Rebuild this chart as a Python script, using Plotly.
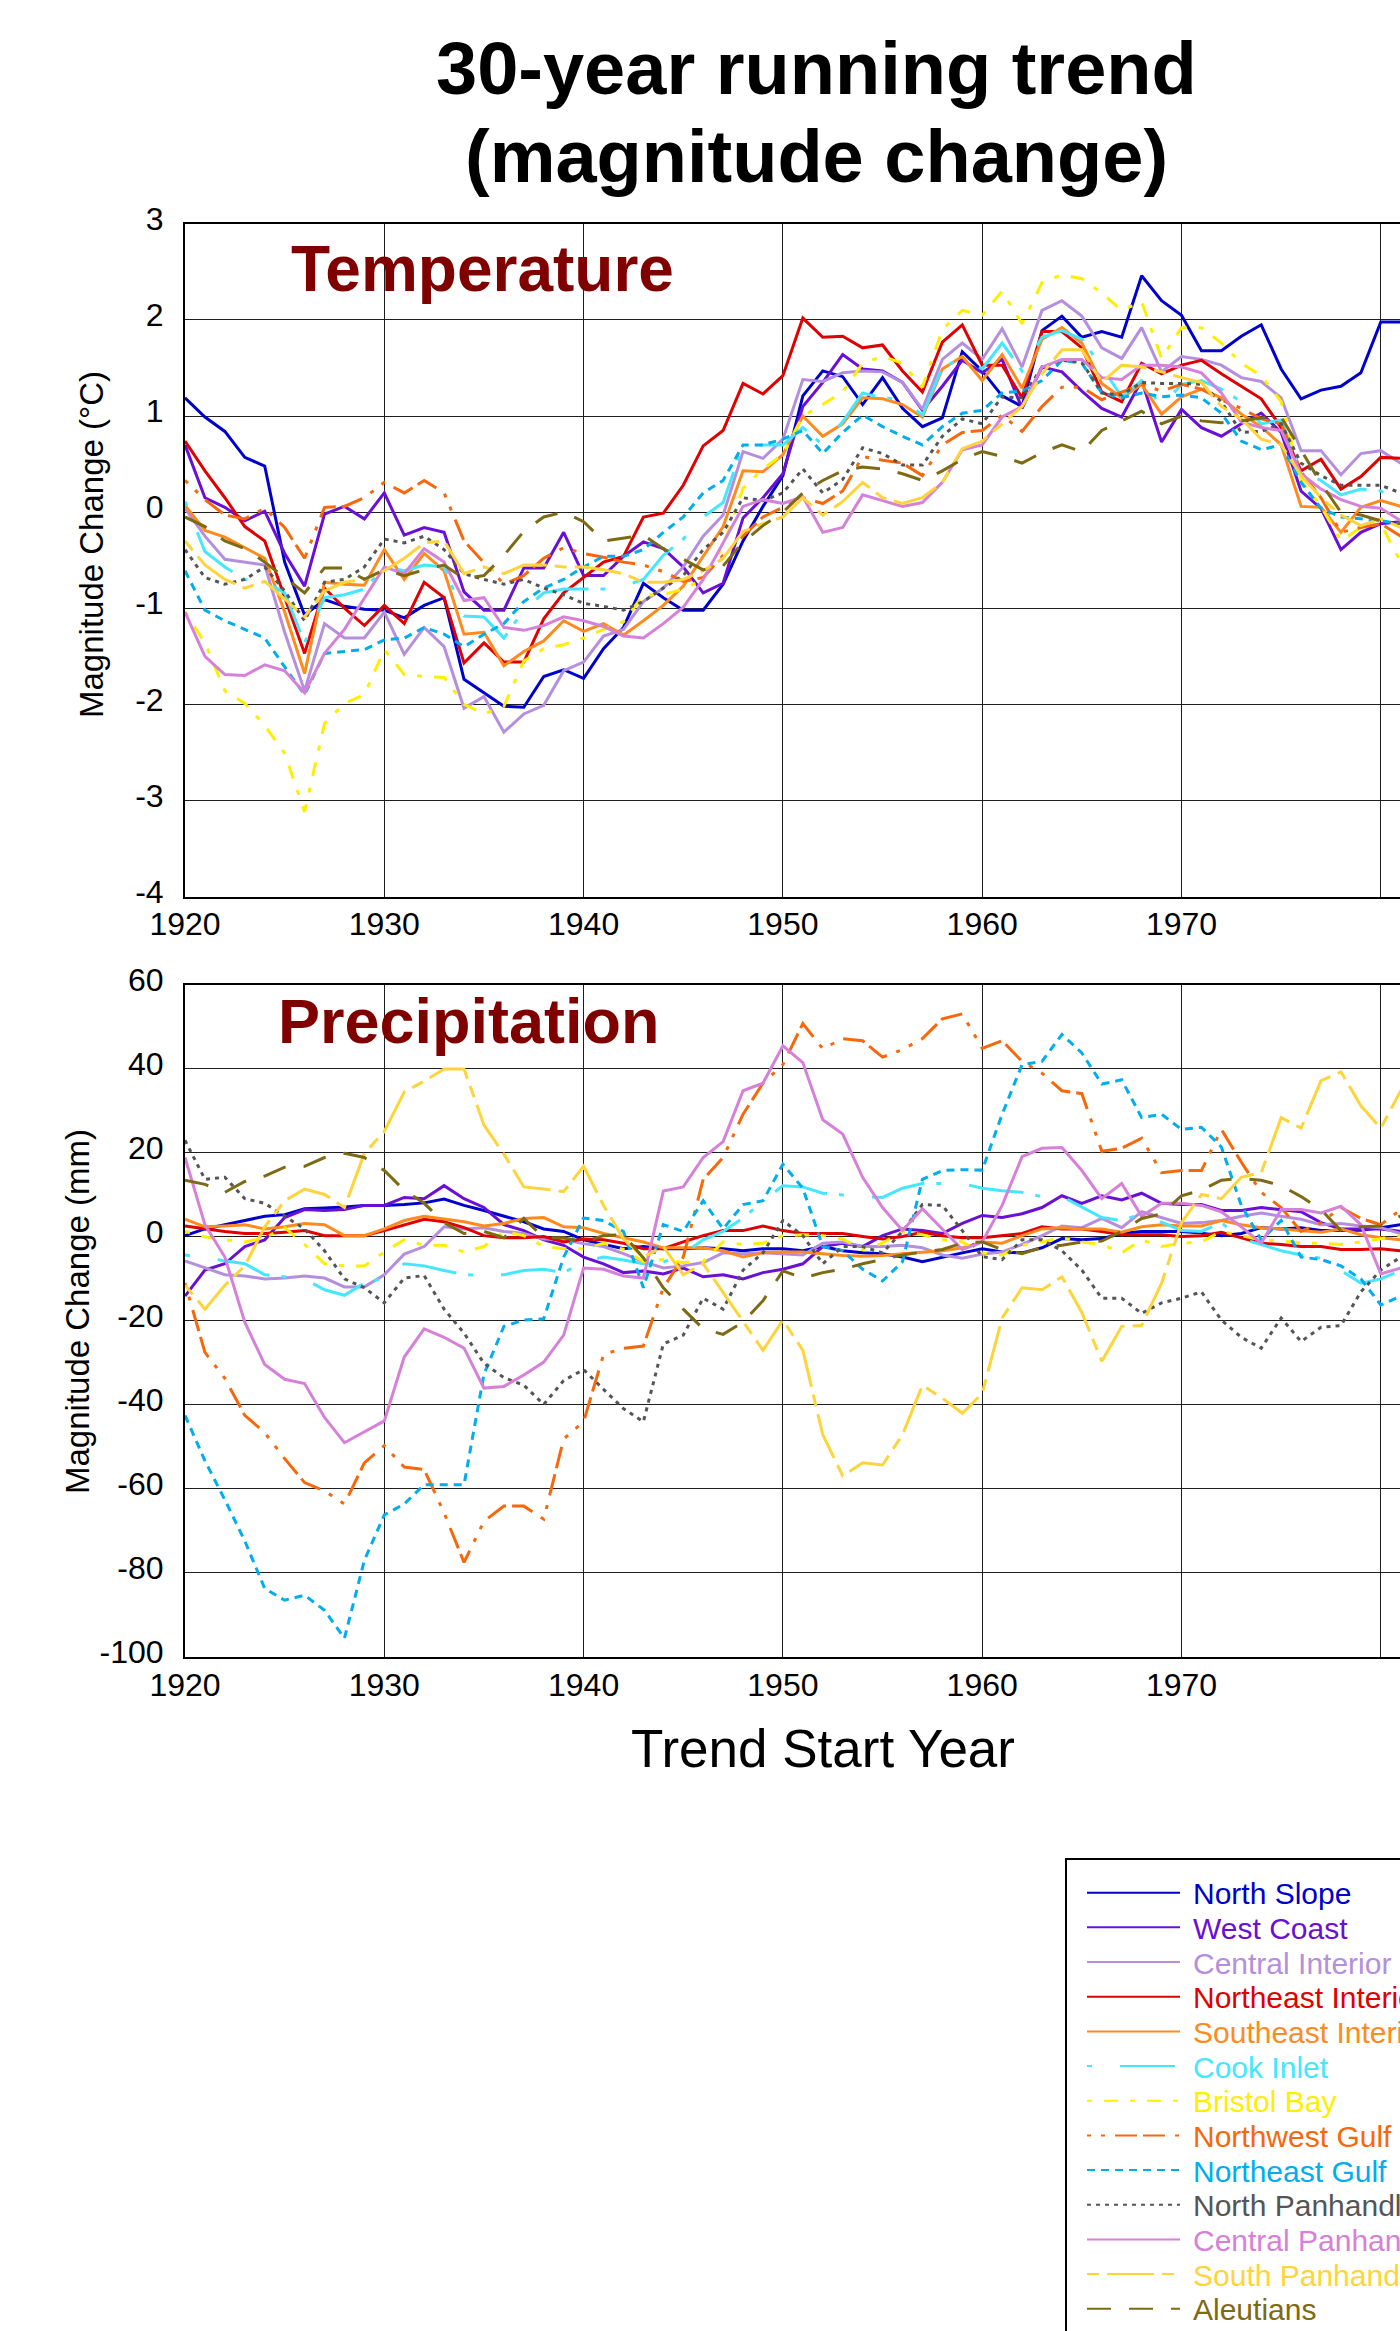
import plotly.graph_objects as go

# ---------------------------------------------------------------------------
# Data: 30-year running trend (magnitude change), trend start years 1920-1981
# ---------------------------------------------------------------------------
YEARS = list(range(1920, 1982))

REGIONS = [
    "North Slope", "West Coast", "Central Interior", "Northeast Interior",
    "Southeast Interior", "Cook Inlet", "Bristol Bay", "Northwest Gulf",
    "Northeast Gulf", "North Panhandle", "Central Panhandle",
    "South Panhandle", "Aleutians",
]

# Temperature trend magnitude (deg C)
NS_T = [1.19, 0.99, 0.84, 0.57, 0.48, -0.52, -1.07, -0.91, -0.98, -1.01,
        -1.02, -1.10, -0.97, -0.89, -1.74, -1.88, -2.02, -2.03, -1.71, -1.64,
        -1.73, -1.42, -1.20, -0.74, -0.89, -1.02, -1.02, -0.75, -0.30, 0.06,
        0.38, 1.21, 1.47, 1.41, 1.12, 1.40, 1.08, 0.89, 0.98, 1.67,
        1.47, 1.21, 1.10, 1.89, 2.04, 1.82, 1.88, 1.82, 2.46, 2.20,
        2.05, 1.68, 1.68, 1.83, 1.95, 1.49, 1.18, 1.27, 1.31, 1.45,
        1.98, 1.98]
WC_T = [0.70, 0.15, 0.05, -0.09, 0.01, -0.43, -0.77, -0.02, 0.06, -0.07,
        0.20, -0.24, -0.16, -0.21, -0.83, -1.02, -1.02, -0.58, -0.58, -0.21,
        -0.66, -0.66, -0.46, -0.31, -0.38, -0.57, -0.84, -0.74, -0.06, 0.15,
        0.40, 1.10, 1.35, 1.64, 1.49, 1.47, 1.35, 1.06, 1.31, 1.58,
        1.45, 1.59, 1.08, 1.51, 1.46, 1.26, 1.08, 0.99, 1.37, 0.73,
        1.07, 0.88, 0.79, 0.92, 1.03, 0.83, 0.22, 0.04, -0.39, -0.21,
        -0.12, -0.10]
CI_T = [0.04, -0.25, -0.49, -0.52, -0.55, -1.25, -1.86, -1.16, -1.31, -1.31,
        -1.04, -1.48, -1.20, -1.40, -2.04, -1.92, -2.29, -2.10, -2.01, -1.65,
        -1.56, -1.29, -1.22, -0.93, -0.79, -0.57, -0.25, -0.03, 0.63, 0.56,
        0.76, 1.38, 1.36, 1.45, 1.47, 1.46, 1.35, 1.07, 1.59, 1.76,
        1.59, 1.91, 1.51, 2.10, 2.20, 2.04, 1.71, 1.60, 1.92, 1.46,
        1.62, 1.59, 1.53, 1.40, 1.36, 1.19, 0.64, 0.64, 0.39, 0.61,
        0.64, 0.51]
NEI_T = [0.74, 0.43, 0.15, -0.15, -0.30, -0.89, -1.47, -0.79, -1.00, -1.18,
         -0.97, -1.16, -0.73, -0.89, -1.57, -1.36, -1.56, -1.56, -1.11, -0.84,
         -0.68, -0.52, -0.46, -0.05, -0.01, 0.28, 0.69, 0.85, 1.34, 1.23,
         1.42, 2.02, 1.82, 1.83, 1.71, 1.74, 1.47, 1.25, 1.77, 1.95,
         1.53, 1.53, 1.19, 1.88, 1.88, 1.71, 1.25, 1.15, 1.55, 1.44,
         1.53, 1.58, 1.44, 1.31, 1.18, 0.88, 0.43, 0.55, 0.24, 0.37,
         0.57, 0.56]
SEI_T = [0.07, -0.19, -0.26, -0.37, -0.48, -1.04, -1.68, -0.73, -0.75, -0.76,
         -0.39, -0.70, -0.43, -0.61, -1.27, -1.25, -1.60, -1.45, -1.34, -1.13,
         -1.24, -1.16, -1.28, -1.13, -0.97, -0.77, -0.46, -0.15, 0.43, 0.42,
         0.60, 1.00, 0.79, 0.92, 1.19, 1.18, 1.12, 0.99, 1.49, 1.62,
         1.37, 1.64, 1.29, 1.80, 1.92, 1.76, 1.34, 1.19, 1.33, 1.02,
         1.20, 1.28, 1.19, 1.02, 0.89, 0.70, 0.06, 0.05, -0.21, 0.05,
         0.12, 0.06]
CK_T = [0.11, -0.41, -0.57, -0.70, -0.72, -0.84, -1.36, -0.89, -0.86, -0.80,
        -0.57, -0.61, -0.55, -0.57, -1.08, -1.09, -1.31, -1.02, -0.84, -0.80,
        -0.80, -0.80, -0.77, -0.70, -0.45, -0.28, -0.05, 0.10, 0.70, 0.70,
        0.70, 0.88, 0.70, 0.94, 1.24, 1.19, 1.17, 1.01, 1.51, 1.60,
        1.49, 1.76, 1.47, 1.82, 1.89, 1.80, 1.51, 1.20, 1.37, 1.10,
        1.33, 1.37, 1.28, 1.15, 0.92, 0.96, 0.42, 0.33, 0.18, 0.24,
        0.22, 0.11]
BB_T = [-1.04, -1.36, -1.86, -1.99, -2.22, -2.51, -3.12, -2.20, -1.99, -1.90,
        -1.43, -1.69, -1.71, -1.72, -2.00, -2.10, -2.02, -1.55, -1.42, -1.38,
        -1.31, -1.22, -1.14, -0.86, -0.86, -0.80, -0.70, -0.35, 0.25, 0.45,
        0.60, 1.00, 1.12, 1.25, 1.55, 1.62, 1.55, 1.30, 1.90, 2.10,
        2.05, 2.30, 1.96, 2.39, 2.47, 2.43, 2.28, 2.10, 2.19, 1.60,
        1.92, 1.92, 1.76, 1.55, 1.42, 1.15, 0.33, 0.06, -0.30, -0.16,
        -0.12, -0.52]
NWG_T = [0.33, 0.13, -0.03, -0.07, 0.04, -0.16, -0.48, 0.05, 0.06, 0.15,
         0.31, 0.20, 0.33, 0.20, -0.30, -0.52, -0.75, -0.66, -0.48, -0.37,
         -0.43, -0.47, -0.52, -0.55, -0.62, -0.72, -0.68, -0.45, -0.25, -0.05,
         0.05, 0.15, 0.09, 0.22, 0.58, 0.54, 0.51, 0.38, 0.70, 0.83,
         0.85, 1.01, 0.84, 1.10, 1.30, 1.30, 1.17, 1.25, 1.33, 1.26,
         1.33, 1.28, 1.17, 1.08, 0.97, 0.92, 0.42, 0.15, -0.21, -0.16,
         -0.12, -0.25]
NEG_T = [-0.61, -1.02, -1.13, -1.22, -1.31, -1.61, -1.90, -1.47, -1.45, -1.43,
         -1.33, -1.31, -1.20, -1.27, -1.40, -1.27, -1.16, -0.93, -0.79, -0.70,
         -0.57, -0.46, -0.46, -0.39, -0.21, -0.05, 0.20, 0.33, 0.70, 0.70,
         0.76, 0.85, 0.61, 0.83, 1.01, 0.89, 0.79, 0.70, 0.89, 1.03,
         1.06, 1.24, 1.26, 1.37, 1.58, 1.55, 1.24, 1.19, 1.24, 1.20,
         1.22, 1.19, 1.03, 0.74, 0.65, 0.70, 0.31, 0.04, -0.05, -0.07,
         -0.09, -0.12]
NP_T = [-0.39, -0.68, -0.75, -0.70, -0.57, -0.82, -1.13, -0.73, -0.70, -0.57,
        -0.28, -0.32, -0.25, -0.39, -0.64, -0.70, -0.75, -0.70, -0.79, -0.86,
        -0.95, -0.98, -1.02, -0.93, -0.79, -0.66, -0.39, -0.21, 0.15, 0.12,
        0.20, 0.45, 0.20, 0.34, 0.67, 0.61, 0.49, 0.49, 0.79, 0.97,
        0.92, 1.20, 1.19, 1.51, 1.58, 1.56, 1.24, 1.22, 1.35, 1.34,
        1.34, 1.33, 1.15, 0.83, 0.84, 0.92, 0.51, 0.38, 0.28, 0.28,
        0.28, 0.20]
CP_T = [-1.04, -1.50, -1.69, -1.70, -1.59, -1.65, -1.88, -1.47, -1.22, -0.89,
        -0.57, -0.64, -0.38, -0.52, -0.92, -0.89, -1.20, -1.23, -1.18, -1.09,
        -1.13, -1.19, -1.29, -1.31, -1.16, -0.99, -0.70, -0.32, 0.06, 0.13,
        0.09, 0.16, -0.21, -0.16, 0.18, 0.12, 0.06, 0.10, 0.31, 0.65,
        0.70, 0.99, 1.10, 1.51, 1.59, 1.59, 1.40, 1.38, 1.53, 1.53,
        1.51, 1.45, 1.24, 0.94, 0.88, 0.85, 0.40, 0.24, 0.13, 0.06,
        0.04, -0.09]
SP_T = [-0.30, -0.55, -0.70, -0.79, -0.72, -0.91, -1.09, -0.82, -0.73, -0.70,
        -0.61, -0.48, -0.32, -0.30, -0.64, -0.57, -0.64, -0.55, -0.55, -0.57,
        -0.57, -0.60, -0.64, -0.73, -0.73, -0.70, -0.61, -0.48, -0.20, -0.12,
        -0.05, 0.15, -0.03, 0.11, 0.31, 0.15, 0.09, 0.15, 0.31, 0.66,
        0.74, 0.92, 1.10, 1.44, 1.69, 1.69, 1.35, 1.53, 1.51, 1.46,
        1.40, 1.35, 1.10, 0.97, 0.76, 0.70, 0.38, 0.15, -0.03, -0.14,
        -0.07, -0.16]
AL_T = [-0.05, -0.15, -0.30, -0.38, -0.52, -0.68, -0.84, -0.58, -0.58, -0.70,
        -0.60, -0.66, -0.60, -0.55, -0.69, -0.66, -0.45, -0.20, -0.05, 0.00,
        -0.10, -0.30, -0.27, -0.24, -0.38, -0.49, -0.60, -0.56, -0.31, -0.14,
        0.00, 0.20, 0.33, 0.43, 0.47, 0.45, 0.40, 0.33, 0.43, 0.55,
        0.63, 0.58, 0.51, 0.62, 0.70, 0.63, 0.85, 0.95, 1.05, 0.92,
        1.00, 0.95, 0.93, 0.95, 0.98, 0.99, 0.65, 0.30, 0.00, -0.03,
        -0.09, -0.12]

# Precipitation trend magnitude (mm)
NS_P = [0.3, 1.9, 2.9, 3.9, 4.9, 5.3, 6.7, 6.9, 7.1, 7.5,
        7.5, 7.7, 8.1, 9.0, 7.5, 6.3, 4.9, 3.6, 1.9, 1.3,
        -0.7, -1.8, -2.8, -2.3, -2.8, -2.8, -2.6, -2.8, -3.3, -2.8,
        -2.8, -3.3, -2.3, -3.3, -3.8, -4.0, -4.8, -5.9, -4.8, -3.8,
        -2.8, -3.6, -3.8, -2.6, -0.4, -0.7, -0.4, 0.8, 1.3, 1.3,
        1.3, 0.9, 0.3, 0.8, 2.2, 1.9, 2.2, 1.5, 1.6, 1.6,
        2.2, 2.9]
WC_P = [-14.1, -7.9, -6.4, -2.3, -0.7, 4.6, 6.5, 6.3, 6.5, 7.5,
        7.5, 9.4, 9.1, 12.2, 9.1, 7.0, 2.9, 1.5, -0.7, -2.0,
        -4.8, -6.4, -8.5, -8.1, -8.8, -7.4, -9.5, -9.0, -10.0, -8.5,
        -7.7, -6.4, -2.3, -1.5, -2.3, 0.3, 1.9, 1.5, 0.8, 3.2,
        5.1, 4.6, 5.5, 7.0, 9.8, 8.0, 9.8, 8.8, 10.4, 8.0,
        7.7, 7.7, 6.3, 6.3, 7.0, 6.5, 6.0, 3.4, 1.9, 1.9,
        1.9, 1.3]
CI_P = [-5.7, -7.4, -9.0, -9.3, -10.0, -9.8, -9.3, -9.8, -11.9, -11.9,
        -9.0, -4.1, -2.3, 2.4, 1.9, 2.2, 1.3, 0.8, -0.5, -0.7,
        -1.6, -2.3, -4.0, -5.9, -7.4, -6.9, -6.1, -3.8, -4.0, -3.8,
        -4.0, -4.3, -1.5, -1.2, -2.3, -2.3, -2.0, -2.6, -4.3, -5.1,
        -4.1, -3.6, -1.8, 0.3, 2.6, 2.2, 4.4, 2.2, 6.0, 4.6,
        3.2, 3.4, 3.9, 4.9, 5.7, 4.9, 4.2, 2.9, 3.2, 2.6,
        2.2, 0.8]
NEI_P = [2.6, 1.9, 1.3, 0.8, 0.8, 1.1, 1.5, 0.3, 0.3, 0.3,
         1.5, 2.9, 4.2, 3.6, 2.2, 0.3, -0.2, -0.2, 0.1, -1.2,
         -0.5, -0.7, -1.5, -2.8, -2.8, -1.2, 0.3, 1.5, 1.5, 2.6,
         1.5, 0.8, 0.8, 0.8, 0.1, -0.5, 0.1, 1.1, 0.3, -0.2,
         -0.2, 0.3, 0.8, 2.4, 1.9, 1.9, 1.3, 0.5, 0.5, 0.5,
         0.1, 0.3, 1.1, -0.2, -1.5, -1.8, -2.3, -2.3, -3.0, -3.0,
         -2.8, -3.3]
SEI_P = [4.2, 2.4, 2.6, 2.9, 1.9, 2.4, 3.2, 2.9, 0.3, 0.3,
         1.9, 3.9, 4.9, 4.2, 3.6, 2.6, 3.2, 4.4, 4.6, 2.4,
         2.2, 0.8, -0.2, -1.2, -2.6, -2.6, -2.6, -3.3, -4.8, -3.8,
         -3.6, -3.6, -4.0, -4.4, -4.6, -4.4, -4.0, -3.6, -3.3, -2.6,
         -1.2, -1.5, 0.3, 1.9, 2.2, 1.9, 1.9, 1.1, 2.4, 2.9,
         2.6, 2.6, 3.9, 2.9, 2.2, 1.9, 1.5, 1.1, 1.9, 0.5,
         -0.2, -0.7]
CK_P = [-4.3, -5.0, -5.7, -6.4, -9.0, -9.5, -10.0, -12.6, -13.9, -11.0,
        -9.8, -6.4, -6.9, -8.0, -9.0, -9.2, -9.0, -8.0, -7.7, -8.5,
        -5.9, -4.8, -5.5, -6.4, -6.0, -4.0, -0.7, 1.3, 4.5, 8.5,
        12.2, 11.9, 10.4, 10.0, 9.6, 9.4, 11.6, 12.7, 12.7, 12.7,
        11.6, 11.0, 10.6, 9.6, 9.6, 7.0, 4.6, 3.9, 5.5, 3.5,
        1.5, 1.3, 3.4, -0.5, -1.8, -3.3, -4.3, -5.1, -8.0, -11.0,
        -10.0, -8.0]
BB_P = [1.3, 0.0, -0.7, -1.2, -0.2, 2.2, -1.8, -6.4, -6.9, -6.9,
        -3.6, -0.7, -2.0, -2.0, -3.6, -2.3, 1.3, 0.3, -2.3, -2.8,
        -2.8, -1.5, -3.0, -5.9, -5.4, -6.1, -5.9, -1.2, -1.8, -1.5,
        0.3, 0.5, 0.3, -0.5, -3.0, -1.5, 1.3, 0.5, -0.7, -1.2,
        -3.8, -4.3, -2.0, -1.2, -0.2, -1.2, -1.8, -3.8, -0.7, -2.3,
        -1.5, -1.2, 1.3, 0.3, -0.7, -0.9, -1.5, -1.5, -1.8, -1.2,
        -0.5, 0.3]
NWG_P = [-11.0, -27.5, -33.7, -42.5, -46.6, -52.8, -58.5, -60.5, -63.6, -53.8,
         -49.7, -54.8, -55.4, -65.7, -77.5, -67.7, -64.1, -64.1, -67.2, -48.1,
         -44.0, -28.0, -26.5, -26.0, -12.1, -4.8, 13.7, 18.9, 29.2, 36.6,
         41.0, 50.8, 44.8, 47.2, 46.7, 42.8, 44.6, 47.2, 51.9, 53.1,
         44.9, 46.7, 41.8, 39.0, 34.8, 34.1, 20.4, 21.1, 23.5, 15.3,
         15.8, 15.8, 25.6, 17.8, 10.6, 7.0, 1.3, 3.4, 7.0, 4.4,
         2.9, 6.5]
NEG_P = [-42.5, -53.3, -62.6, -72.4, -83.7, -86.5, -85.3, -88.9, -95.6, -77.0,
         -66.2, -63.6, -59.0, -59.0, -59.0, -32.7, -21.3, -19.8, -19.5, -4.8,
         4.5, 3.9, 1.3, -12.1, 2.9, 1.3, 8.6, 1.9, 7.7, 8.6,
         17.3, 11.6, -2.3, -3.3, -7.7, -10.5, -5.9, 13.7, 15.8, 16.0,
         15.9, 29.2, 41.0, 41.8, 48.2, 43.8, 36.4, 37.4, 28.4, 29.2,
         25.6, 26.1, 21.4, 7.5, -0.7, 3.9, -4.8, -5.4, -6.9, -10.0,
         -16.2, -14.1]
NP_P = [23.0, 13.7, 14.2, 9.1, 8.0, 4.9, 1.9, -3.3, -10.0, -12.1,
        -15.7, -9.8, -9.2, -17.2, -22.9, -30.1, -33.5, -35.3, -39.9, -34.2,
        -31.6, -36.3, -40.9, -44.0, -25.5, -23.4, -14.6, -17.2, -7.9, -3.8,
        3.9, 0.3, -6.4, -2.3, -2.3, -3.8, 1.3, 7.7, 7.5, 1.5,
        -4.7, -5.4, -0.7, -0.7, -3.3, -7.9, -14.6, -14.6, -18.2, -15.7,
        -14.6, -13.1, -19.8, -23.9, -26.5, -19.3, -24.9, -21.5, -21.1, -13.1,
        -7.9, -4.8]
CP_P = [18.9, 2.9, -4.8, -20.3, -30.4, -33.9, -34.9, -43.0, -49.0, -46.3,
        -43.8, -28.6, -21.9, -23.9, -26.5, -36.0, -35.6, -32.9, -29.8, -23.4,
        -7.4, -7.7, -9.3, -9.8, 10.9, 11.9, 18.9, 22.7, 34.8, 36.6,
        45.5, 41.5, 27.9, 24.5, 14.2, 7.0, 1.5, 6.7, 1.9, -3.0,
        -1.2, 7.5, 19.1, 21.1, 21.3, 15.8, 9.1, 12.7, 4.9, 8.0,
        8.0, 7.5, 6.0, 2.4, -1.5, 6.5, 6.5, 5.7, 7.3, 2.9,
        -8.8, -7.4]
SP_P = [-11.5, -17.2, -11.5, -6.9, 2.4, 8.6, 11.4, 10.1, 7.0, 19.9,
        25.1, 34.5, 37.1, 40.0, 40.0, 26.6, 19.7, 11.9, 11.4, 10.8,
        16.8, 7.5, -0.5, -4.8, -2.3, -9.0, -6.4, -13.1, -20.1, -27.0,
        -19.8, -27.0, -47.1, -56.9, -53.8, -54.3, -47.1, -35.3, -38.4, -42.0,
        -37.3, -19.3, -12.1, -12.6, -9.5, -18.0, -29.6, -21.3, -21.1, -11.0,
        3.4, 10.1, 9.1, 14.2, 15.3, 28.4, 25.9, 37.2, 39.3, 31.2,
        25.9, 34.8]
AL_P = [13.5, 12.5, 10.6, 13.2, 14.5, 16.6, 16.8, 18.9, 19.9, 18.9,
        15.8, 11.1, 8.0, 3.4, 0.8, 1.3, -0.2, 4.4, -0.2, -0.2,
        -1.2, 0.3, 0.5, -5.0, -12.1, -17.2, -21.9, -23.2, -20.3, -15.2,
        -8.1, -9.8, -8.5, -7.7, -6.4, -5.4, -4.3, -3.6, -3.0, -1.5,
        -1.2, -3.0, -4.0, -2.5, -2.0, -1.2, -1.0, 1.3, 4.4, 5.5,
        9.8, 11.1, 13.5, 13.9, 13.5, 12.2, 9.6, 6.5, 1.5, 2.4,
        2.6, 5.0]

TEMP = [NS_T, WC_T, CI_T, NEI_T, SEI_T, CK_T, BB_T, NWG_T, NEG_T,
        NP_T, CP_T, SP_T, AL_T]
PRECIP = [NS_P, WC_P, CI_P, NEI_P, SEI_P, CK_P, BB_P, NWG_P, NEG_P,
          NP_P, CP_P, SP_P, AL_P]

TEMP_TICKS = list(range(-4, 4))
PRECIP_TICKS = list(range(-100, 61, 20))
YEAR_TICKS = list(range(1920, 1981, 10))

# ---------------------------------------------------------------------------
# Styling
# ---------------------------------------------------------------------------
COLORS = ["#0000CC", "#6A0FD6", "#B58FDE", "#E00000", "#FF8A1E", "#45E6FF",
          "#FFEE00", "#F8680A", "#00ADEE", "#555555", "#D680DA", "#FFD43A",
          "#7E6A12"]
DASHES = ["solid", "solid", "solid", "solid", "solid",
          "5px,28px,55px,12px",             # Cook Inlet
          "5px,12px,14px,12px",             # Bristol Bay
          "4px,10px,4px,10px,22px,6px,22px,10px",  # Northwest Gulf
          "8px,6px",                        # Northeast Gulf
          "4px,5px",                        # North Panhandle
          "solid",                          # Central Panhandle
          "12px,8px,47px,8px",              # South Panhandle
          "24px,18px"]                      # Aleutians

FONT = "Liberation Sans, Arial, Helvetica, sans-serif"
W, H = 1400, 2331
ML = 185
PLOT_W = W - ML


def px_x(px):
    return (px - ML) / PLOT_W


def px_y(py):
    return 1 - py / H


fig = go.Figure()

for vals, name, color, dash in zip(TEMP, REGIONS, COLORS, DASHES):
    fig.add_trace(go.Scatter(x=YEARS, y=vals, name=name, mode="lines",
                             line=dict(color=color, width=3, dash=dash),
                             showlegend=False, xaxis="x", yaxis="y"))
for vals, name, color, dash in zip(PRECIP, REGIONS, COLORS, DASHES):
    fig.add_trace(go.Scatter(x=YEARS, y=vals, name=name, mode="lines",
                             line=dict(color=color, width=3, dash=dash),
                             showlegend=False, xaxis="x2", yaxis="y2"))

axis_common = dict(
    showline=True, linecolor="black", linewidth=2,
    showgrid=True, gridcolor="#1e1e1e", gridwidth=1,
    zeroline=False, ticks="", automargin=False,
    tickfont=dict(family=FONT, size=32, color="black"),
)
x_range = [1920, 1920 + PLOT_W / 19.93]
year_text = [str(v) for v in YEAR_TICKS]

fig.update_layout(
    width=W, height=H,
    margin=dict(l=ML, r=0, t=0, b=0, pad=0, autoexpand=False),
    paper_bgcolor="white", plot_bgcolor="white",
    xaxis=dict(domain=[0, 1], anchor="y", range=x_range,
               tickvals=YEAR_TICKS, ticktext=year_text,
               mirror=True, ticklabelstandoff=-2, **axis_common),
    yaxis=dict(domain=[px_y(896.5), px_y(223.9)], anchor="x", range=[-4, 3],
               tickvals=TEMP_TICKS, ticktext=[str(v) for v in TEMP_TICKS],
               ticklabelstandoff=13, ticklabelshift=-5, **axis_common),
    xaxis2=dict(domain=[0, 1], anchor="y2", range=x_range,
                tickvals=YEAR_TICKS, ticktext=year_text,
                mirror=True, ticklabelstandoff=-1, **axis_common),
    yaxis2=dict(domain=[px_y(1656.9), px_y(984.9)], anchor="x2",
                range=[-100, 60], tickvals=PRECIP_TICKS,
                ticktext=[str(v) for v in PRECIP_TICKS],
                ticklabelstandoff=13, ticklabelshift=-5, **axis_common),
    showlegend=False,
)

annotations = []


def add_text(text, cx, cy, size, color="black", bold=False, angle=0,
             xanchor="center"):
    annotations.append(dict(
        text=f"<b>{text}</b>" if bold else text,
        x=px_x(cx), y=px_y(cy), xref="paper", yref="paper",
        xanchor=xanchor, yanchor="middle", showarrow=False,
        textangle=angle, font=dict(family=FONT, size=size, color=color)))


# Chart title
add_text("30-year running trend", 816, 68, 74, bold=True)
add_text("(magnitude change)", 816, 157, 74, bold=True)

# Panel labels
add_text("Temperature", 482, 269, 64, color="#800000", bold=True)
add_text("Precipitation", 469, 1021, 63, color="#800000", bold=True)

# Axis titles
add_text("Magnitude Change (°C)", 92, 545, 33, angle=-90)
add_text("Magnitude Change (mm)", 77, 1312, 33, angle=-90)
add_text("Trend Start Year", 823, 1748, 53)

# Legend (drawn as a framed key with long line samples)
shapes = [dict(type="rect", xref="paper", yref="paper",
               x0=px_x(1066), x1=px_x(1480), y0=px_y(1859), y1=px_y(2420),
               line=dict(color="black", width=2), fillcolor="rgba(0,0,0,0)")]
ROW0, ROW_STEP = 1892.7, 34.67
for i, (name, color, dash) in enumerate(zip(REGIONS, COLORS, DASHES)):
    ry = ROW0 + i * ROW_STEP
    shapes.append(dict(type="line", xref="paper", yref="paper",
                       x0=px_x(1087), x1=px_x(1180), y0=px_y(ry), y1=px_y(ry),
                       line=dict(color=color, width=2, dash=dash)))
    add_text(name, 1191, ry + 1, 30, color=color, xanchor="left")

fig.update_layout(annotations=annotations, shapes=shapes)

fig.write_html("out.html")
